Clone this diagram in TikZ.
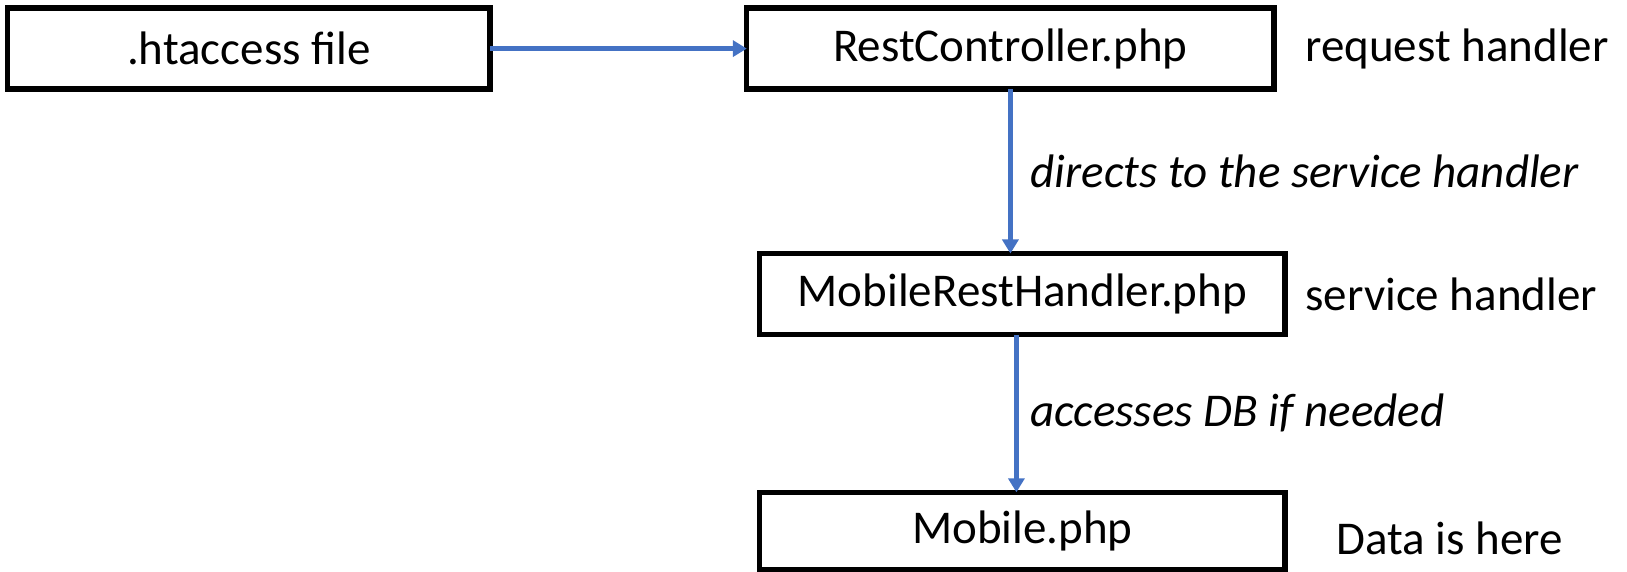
\documentclass[tikz,border=0pt]{standalone}
\usepackage{fontspec}
\setmainfont{Carlito}
\usetikzlibrary{arrows.meta,positioning}
\definecolor{linkblue}{HTML}{4472C4}
\tikzset{
    >={Triangle[length=7pt,width=8pt]},
    font=\fontsize{23.5}{28}\selectfont,
    file box/.style={draw,line width=2.6pt,inner sep=0pt,outer sep=0pt,minimum height=40.5pt},
    role text/.style={inner sep=0pt,align=left},
    flow text/.style={inner sep=0pt,text=black,font=\fontsize{23.5}{28}\selectfont\itshape},
    link/.style={->,color=linkblue,line width=2.2pt}
}
\begin{document}
\begin{tikzpicture}
    \useasboundingbox (0,0) rectangle (813.5pt,-286pt);
    \node[file box, minimum width=241.2pt] (htaccess) at (124.4pt,-24.3pt) {.htaccess file};
    \node[file box, minimum width=263.6pt] (rest) [right = 128.4pt of htaccess] {RestController.php};
    \node[file box, minimum width=262.6pt] (mrh) [below = 82.2pt of rest, xshift=6pt] {MobileRestHandler.php};
    \node[file box, minimum width=262.6pt, minimum height=38.5pt] (mobile) [below = 78.9pt of mrh] {Mobile.php};
    \node[role text] (reqrole) [right = 15.5pt of rest] {request handler};
    \node[role text] (svcrole) [right = 10pt of mrh] {service handler};
    \node[role text] (datarole) [right = 25.5pt of mobile, yshift=-4pt] {Data is here};
    \coordinate (dbstart) at ([xshift=-3pt]mrh.south);
    \path[link]
        (htaccess) edge (rest)
        (rest) edge node [flow text, right=9pt] {directs to the service handler} (rest |- mrh.north)
        (dbstart) edge node [flow text, right=6pt] {accesses DB if needed} (dbstart |- mobile.north)
        ;
\end{tikzpicture}
\end{document}
